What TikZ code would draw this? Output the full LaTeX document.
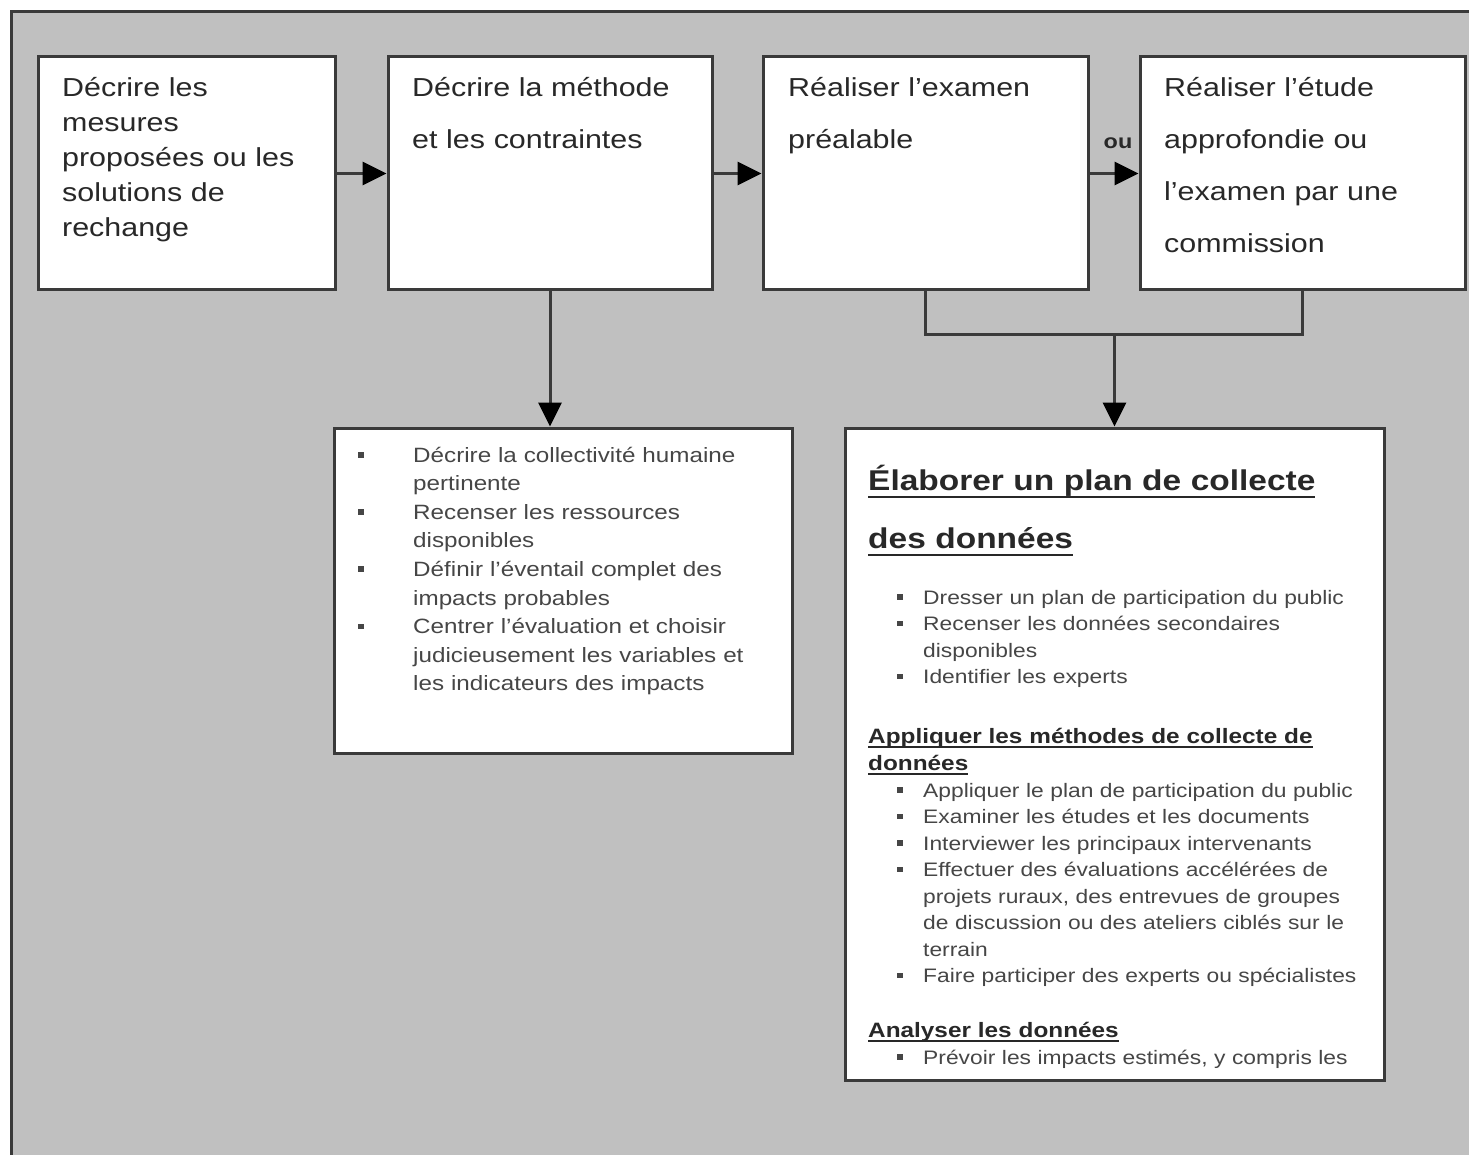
\documentclass[tikz,border=0pt]{standalone}
\usepackage{fontspec}
\setmainfont[FakeStretch=1.17]{Liberation Sans}
\usepackage{tikz}
\usetikzlibrary{arrows.meta,positioning}
\definecolor{fond}{RGB}{192,192,192}
\definecolor{trait}{RGB}{58,58,58}
\definecolor{encre}{RGB}{40,40,40}
\definecolor{encregris}{RGB}{70,70,70}
\tikzstyle{etape}=[draw=trait,fill=white,line width=3pt,inner sep=0pt]
\tikzstyle{texte}=[anchor=base west,inner sep=0pt,align=left,text=encre]
\tikzstyle{fleche}=[line width=3pt,draw=trait,->]
\newcommand{\puce}[2][26pt]{\hangindent=#1\hangafter=1\noindent\makebox[#1][l]{\rule[4.5pt]{5.5pt}{5.5pt}}#2\par}
\newcommand{\souligne}[2][5pt]{\leavevmode\setbox0=\hbox{#2}\rlap{\rule[-#1]{\wd0}{2.4pt}}\box0}

\begin{document}
\begin{tikzpicture}[line join=miter,x=1pt,y=-1pt,>={Triangle[length=24pt,width=23pt,color=black]}]
\clip (0,0) rectangle (1469,1155);
\draw [fill=fond,draw=trait,line width=3pt] (11,12) rectangle (1500,1200);

\node[etape,minimum width=297pt,minimum height=233pt] (mesures) at (186.5,173.5) {};
\node[etape,minimum width=324pt,minimum height=233pt] (methode) at (550,173.5) {};
\node[etape,minimum width=325pt,minimum height=233pt] (examen) at (925.5,173.5) {};
\node[etape,minimum width=325pt,minimum height=233pt] (etude) at (1302.5,173.5) {};
\node[etape,minimum width=458pt,minimum height=325pt] (liste) at (563,590.5) {};
\node[etape,minimum width=539pt,minimum height=652pt] (collecte) at (1114.5,754) {};
\coordinate (jonction) at (1114.5,335);

\node[texte,text width=265pt,font=\fontsize{26}{35}\selectfont] (t-mesures) at (62,97)
  {Décrire les\\ mesures\\ proposées ou les\\ solutions de\\ rechange};
\node[texte,text width=290pt,font=\fontsize{26}{52}\selectfont] (t-methode) at (412,97)
  {Décrire la méthode\\ et les contraintes};
\node[texte,text width=290pt,font=\fontsize{26}{52}\selectfont] (t-examen) at (788,97)
  {Réaliser l'examen\\ préalable};
\node[texte,text width=290pt,font=\fontsize{26}{52}\selectfont] (t-etude) at (1164,97)
  {Réaliser l'étude\\ approfondie ou\\ l'examen par une\\ commission};

\node[texte,text=encregris,text width=410pt,font=\fontsize{20.7}{28.6}\selectfont] (t-liste) at (358,462) {%
  \puce[55pt]{Décrire la collectivité humaine\newline pertinente}
  \puce[55pt]{Recenser les ressources\newline disponibles}
  \puce[55pt]{Définir l'éventail complet des\newline impacts probables}
  \puce[55pt]{Centrer l'évaluation et choisir\newline judicieusement les variables et\newline les indicateurs des impacts}};

\node[texte,text width=490pt,font=\fontsize{28.6}{58}\selectfont\bfseries] (titre) at (868,490)
  {\souligne[8pt]{Élaborer un plan de collecte}\\ \souligne[8pt]{des données}};
\node[texte,text=encregris,text width=480pt,font=\fontsize{19.5}{26.5}\selectfont] (puces-plan) at (897,604) {%
  \puce{Dresser un plan de participation du public}
  \puce{Recenser les données secondaires\newline disponibles}
  \puce{Identifier les experts}};
\node[texte,text width=490pt,font=\fontsize{20.8}{27}\selectfont\bfseries] (titre-methodes) at (868,743)
  {\souligne{Appliquer les méthodes de collecte de}\\ \souligne{données}};
\node[texte,text=encregris,text width=480pt,font=\fontsize{19.5}{26.5}\selectfont] (puces-methodes) at (897,797) {%
  \puce{Appliquer le plan de participation du public}
  \puce{Examiner les études et les documents}
  \puce{Interviewer les principaux intervenants}
  \puce{Effectuer des évaluations accélérées de\newline projets ruraux, des entrevues de groupes\newline de discussion ou des ateliers ciblés sur le\newline terrain}
  \puce{Faire participer des experts ou spécialistes}};
\node[texte,text width=490pt,font=\fontsize{20.8}{27}\selectfont\bfseries] (titre-analyse) at (868,1037)
  {\souligne{Analyser les données}};
\node[texte,text=encregris,text width=480pt,font=\fontsize{19.5}{26.5}\selectfont] (puces-analyse) at (897,1064) {%
  \puce{Prévoir les impacts estimés, y compris les}};

\draw [fleche] (mesures) -- (methode);
\draw [fleche] (methode) -- (examen);
\draw [fleche] (examen) -- node[above=23pt,xshift=4pt,inner sep=0pt,text=encre,font=\fontsize{20}{24}\selectfont\bfseries] (ou) {ou} (etude);
\draw [fleche] (methode.south) -- (methode.south |- liste.north);
\draw [line width=3pt,draw=trait] (examen.south) |- (jonction) -| (etude.south);
\draw [fleche] (jonction) -- (collecte.north);
\end{tikzpicture}
\end{document}
